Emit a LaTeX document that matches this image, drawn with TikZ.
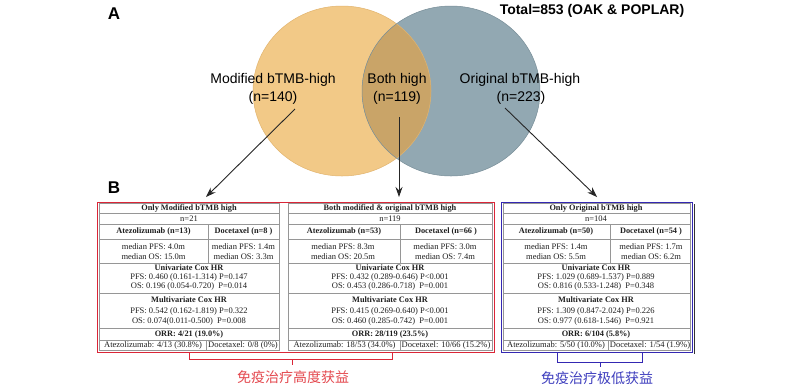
\documentclass[tikz,border=0pt]{standalone}
\usepackage{fontspec}
\setmainfont{Liberation Serif}
\newfontfamily\arialf{Liberation Sans}
\newfontfamily\cjkf{Noto Sans CJK SC}
\usetikzlibrary{arrows.meta}
\definecolor{orangeC}{RGB}{242,201,135}
\definecolor{orangeE}{RGB}{226,180,110}
\definecolor{blueC}{RGB}{146,168,178}
\definecolor{blueE}{RGB}{120,142,152}
\definecolor{overlapC}{RGB}{201,164,104}
\definecolor{redB}{RGB}{218,38,55}
\definecolor{redT}{RGB}{228,72,78}
\definecolor{blueB}{RGB}{52,40,178}
\definecolor{blueT}{RGB}{62,62,190}
\definecolor{gridC}{RGB}{150,150,150}
\tikzset{
  venn/.style={font=\arialf\fontsize{14}{17}\selectfont, inner sep=0, align=center},
  panel/.style={font=\arialf\bfseries\fontsize{17}{20}\selectfont, inner sep=0},
  tt/.style={font=\fontsize{8.5}{9.5}\selectfont, inner sep=0, text=black!88},
  tb/.style={font=\fontsize{8.3}{9.5}\selectfont\bfseries, inner sep=0, text=black!88},
  gridline/.style={draw=gridC, line width=0.6pt},
  arr/.style={-{Stealth[length=10pt,width=7pt]}, line width=0.9pt, black!85},
  cjklab/.style={font=\cjkf\fontsize{14}{16}\selectfont, inner sep=0},
}
\newcommand\tgrid[4]{%
  \draw[gridline] (#1,203.5) rectangle (#2,350.5);
  \foreach \yy in {213.5,224,239,263,293,328,340} \draw[gridline] (#1,\yy) -- (#2,\yy);
  \draw[gridline] (#3,224) -- (#3,263);
  \draw[gridline] (#4,340) -- (#4,350.5);}
\begin{document}
\begin{tikzpicture}[x=1pt,y=-1pt]
\useasboundingbox[fill=white] (0,0) rectangle (810,384);
% Venn
\fill[orangeC] (342,91) ellipse [x radius=89pt, y radius=85pt];
\fill[blueC] (451,91) ellipse [x radius=89pt, y radius=85pt];
\begin{scope}
  \clip (342,91) ellipse [x radius=89pt, y radius=85pt];
  \fill[overlapC] (451,91) ellipse [x radius=89pt, y radius=85pt];
\end{scope}
\draw[orangeE, line width=0.5pt] (342,91) ellipse [x radius=89pt, y radius=85pt];
\draw[blueE, line width=0.5pt] (451,91) ellipse [x radius=89pt, y radius=85pt];

\node[panel] (A) at (114,14) {A};
\node[panel] (B) at (114,188) {B};
\node[font=\arialf\bfseries\fontsize{14}{17}\selectfont, inner sep=0] (total) at (592,11) {Total=853 (OAK \& POPLAR)};

\node[venn] (mod) at (273,80) {Modified bTMB-high};
\node[venn] (n140) at (273,98) {(n=140)};
\node[venn] (both) at (397,80) {Both high};
\node[venn] (n119) at (397,98) {(n=119)};
\node[venn] (orig) at (520,80) {Original bTMB-high};
\node[venn] (n223) at (521,98) {(n=223)};

\coordinate (s1) at (295,109);
\coordinate (s2) at (399,117);
\coordinate (s3) at (505,108);
\coordinate (t1) at (206,197);
\coordinate (t2) at (399,197);
\coordinate (t3) at (597,197);
\draw[arr] (s1) -- (t1);
\draw[arr] (s2) -- (t2);
\draw[arr] (s3) -- (t3);

% table frames
\tgrid{99}{279}{208}{206}
\tgrid{288}{492}{400}{400}
\tgrid{503}{690}{610}{608}
\draw[redB, line width=1pt] (97,202) rectangle (494,352);
\draw[black!80, line width=0.8pt] (694,204) -- (694,354);
\draw[blueB, line width=1pt] (501,202) rectangle (692,352);

% left table
\node[tb] (Ltitle) at (189,208.5) {Only Modified bTMB high};
\node[tt] (Ln) at (189,219) {n=21};
\node[tb] (La) at (153.5,231.5) {Atezolizumab (n=13)};
\node[tb] (Ld) at (243.5,231.5) {Docetaxel (n=8 )};
\node[tt] (Lap) at (153.5,246.5) {median PFS: 4.0m};
\node[tt] (Lao) at (153.5,256.5) {median OS: 15.0m};
\node[tt] (Ldp) at (243.5,246.5) {median PFS: 1.4m};
\node[tt] (Ldo) at (243.5,256.5) {median OS: 3.3m};
\node[tb] (Lu) at (189,268) {Univariate Cox HR};
\node[tt] (Lup) at (189,277.5) {PFS: 0.460 (0.161-1.314) P=0.147};
\node[tt] (Luo) at (189,286.5) {OS: 0.196 (0.054-0.720)~ P=0.014};
\node[tb] (Lm) at (189,300) {Multivariate Cox HR};
\node[tt] (Lmp) at (189,311) {PFS: 0.542 (0.162-1.819) P=0.322};
\node[tt] (Lmo) at (189,321.5) {OS: 0.074(0.011-0.500)~ P=0.008};
\node[tb] (Lo) at (189,334) {ORR: 4/21 (19.0\%)};
\node[tt] (Lba) at (153,345.5) {Atezolizumab: 4/13 (30.8\%)};
\node[tt] (Lbd) at (243,345.5) {Docetaxel: 0/8 (0\%)};

% middle table
\node[tb] (Mtitle) at (390,208.5) {Both modified \& original bTMB high};
\node[tt] (Mn) at (390,219) {n=119};
\node[tb] (Ma) at (344,231.5) {Atezolizumab (n=53)};
\node[tb] (Md) at (446,231.5) {Docetaxel (n=66 )};
\node[tt] (Map) at (343,246.5) {median PFS: 8.3m};
\node[tt] (Mao) at (343,256.5) {median OS: 20.5m};
\node[tt] (Mdp) at (445,246.5) {median PFS: 3.0m};
\node[tt] (Mdo) at (445,256.5) {median OS: 7.4m};
\node[tb] (Mu) at (390,268) {Univariate Cox HR};
\node[tt] (Mup) at (390,277.5) {PFS: 0.432 (0.289-0.646) P<0.001};
\node[tt] (Muo) at (390,286.5) {OS: 0.453 (0.286-0.718)~ P=0.001};
\node[tb] (Mm) at (390,300) {Multivariate Cox HR};
\node[tt] (Mmp) at (390,311) {PFS: 0.415 (0.269-0.640) P<0.001};
\node[tt] (Mmo) at (390,321.5) {OS: 0.460 (0.285-0.742)~ P=0.001};
\node[tb] (Mo) at (390,334) {ORR: 28/119 (23.5\%)};
\node[tt] (Mba) at (344.5,345.5) {Atezolizumab: 18/53 (34.0\%)};
\node[tt] (Mbd) at (446,345.5) {Docetaxel: 10/66 (15.2\%)};

% right table
\node[tb] (Rtitle) at (596,208.5) {Only Original bTMB high};
\node[tt] (Rn) at (596,219) {n=104};
\node[tb] (Ra) at (556,231.5) {Atezolizumab (n=50)};
\node[tb] (Rd) at (651,231.5) {Docetaxel (n=54 )};
\node[tt] (Rap) at (556,246.5) {median PFS: 1.4m};
\node[tt] (Rao) at (556,256.5) {median OS: 5.5m};
\node[tt] (Rdp) at (651,246.5) {median PFS: 1.7m};
\node[tt] (Rdo) at (651,256.5) {median OS: 6.2m};
\node[tb] (Ru) at (596,268) {Univariate Cox HR};
\node[tt] (Rup) at (596,277.5) {PFS: 1.029 (0.689-1.537) P=0.889};
\node[tt] (Ruo) at (596,286.5) {OS: 0.816 (0.533-1.248)~ P=0.348};
\node[tb] (Rm) at (596,300) {Multivariate Cox HR};
\node[tt] (Rmp) at (596,311) {PFS: 1.309 (0.847-2.024) P=0.226};
\node[tt] (Rmo) at (596,321.5) {OS: 0.977 (0.618-1.546)~ P=0.921};
\node[tb] (Ro) at (596,334) {ORR: 6/104 (5.8\%)};
\node[tt] (Rba) at (556,345.5) {Atezolizumab: 5/50 (10.0\%)};
\node[tt] (Rbd) at (650,345.5) {Docetaxel: 1/54 (1.9\%)};

% brackets
\draw[redB, line width=1pt] (189,352) -- (189,359) -- (392,359) -- (392,352);
\draw[redB, line width=1pt] (292,359) -- (292,365);
\node[cjklab, text=redT] (redlab) at (293,377) {免疫治疗高度获益};
\draw[blueB, line width=1pt] (557,352) -- (557,362) -- (642,362) -- (642,352);
\draw[blueB, line width=1pt] (600,362) -- (600,367);
\node[cjklab, text=blueT] (bluelab) at (597,378) {免疫治疗极低获益};
\end{tikzpicture}
\end{document}
